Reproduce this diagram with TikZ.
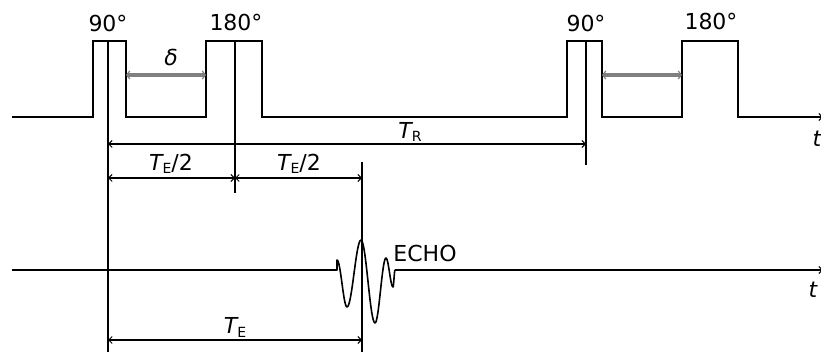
\documentclass[tikz,border=0pt]{standalone}
\usepackage{fontspec}
\setmainfont{DejaVu Sans}
\usetikzlibrary{arrows.meta}
\begin{document}
\begin{tikzpicture}[x=1pt,y=-1pt,line width=1.6pt,
  barb/.tip={Straight Barb[length=3.5pt,width=7pt,line width=1pt]},
  dim/.style={line width=1.3pt,{barb}-{barb}},
  grayarrow/.style={line width=3.5pt,draw=black!50,{Straight Barb[length=3pt,width=8pt,line width=1.2pt]}-{Straight Barb[length=3pt,width=8pt,line width=1.2pt]}},
  lbl/.style={font=\fontsize{22}{24}\selectfont,inner sep=0pt},
  ilbl/.style={font=\fontsize{22}{24}\selectfont\itshape,inner sep=0pt}]
\useasboundingbox (0,0) rectangle (821,352);
% pulse train
\draw[-{barb}] (12,117) -- (93,117) -- (93,41) -- (126,41) -- (126,117) -- (206,117) -- (206,41) -- (262,41) -- (262,117)
  -- (567,117) -- (567,41) -- (602,41) -- (602,117) -- (682,117) -- (682,41) -- (738,41) -- (738,117) -- (823,117);
% center lines
\coordinate (a1) at (108,41);  \coordinate (a2) at (108,352);
\coordinate (b1) at (235,41);  \coordinate (b2) at (235,193);
\coordinate (c1) at (586,41);  \coordinate (c2) at (586,165);
\coordinate (d1) at (362,162); \coordinate (d2) at (362,352);
\draw (a1) -- (a2);
\draw (b1) -- (b2);
\draw (c1) -- (c2);
\draw (d1) -- (d2);
% delta arrows
\coordinate (g1) at (126,75); \coordinate (g2) at (206,75);
\coordinate (h1) at (602,75); \coordinate (h2) at (682,75);
\draw[grayarrow] (g1) -- (g2);
\draw[grayarrow] (h1) -- (h2);
% dimension lines
\coordinate (r1) at (108,144); \coordinate (r2) at (586,144);
\coordinate (e1) at (108,178); \coordinate (e2) at (235,178); \coordinate (e3) at (362,178);
\coordinate (f1) at (108,340); \coordinate (f2) at (362,340);
\draw[dim] (r1) -- (r2);
\draw[dim] (e1) -- (e2);
\draw[dim] (e2) -- (e3);
\draw[dim] (f1) -- (f2);
% bottom axis with echo
\draw[line join=round] (12,270) -- (337,270) -- (337,260)
  cos (342,283.5) sin (347,307)
  cos (354,273.5) sin (361,240)
  cos (368,281.5) sin (375,323)
  cos (380.5,290.5) sin (386,258)
  cos (389.5,272.5) sin (393,287)
  cos (394,278.5) sin (395,270);
\draw[-{barb}] (395,270) -- (823,270);
% labels
\node[lbl] (l90a) at (108,23) {90°};
\node[lbl] (l180a) at (236,22) {180°};
\node[lbl] (l90b) at (586,23) {90°};
\node[lbl] (l180b) at (711,21) {180°};
\node[ilbl] (ldelta) at (171,57) {δ};
\node[ilbl,anchor=base] (lTR) at (410,139) {T\raisebox{-3pt}{\fontsize{14}{14}\selectfont\upshape R}};
\node[ilbl,anchor=base] (lTE1) at (171,171) {T\raisebox{-3pt}{\fontsize{14}{14}\selectfont\upshape E}\upshape/2};
\node[ilbl,anchor=base] (lTE2) at (299,171) {T\raisebox{-3pt}{\fontsize{14}{14}\selectfont\upshape E}\upshape/2};
\node[ilbl,anchor=base] (lTE) at (235,334) {T\raisebox{-3pt}{\fontsize{14}{14}\selectfont\upshape E}};
\node[lbl] (lecho) at (425,253) {ECHO};
\node[ilbl] (lt1) at (817,139) {t};
\node[ilbl] (lt2) at (813,290) {t};
\end{tikzpicture}
\end{document}
